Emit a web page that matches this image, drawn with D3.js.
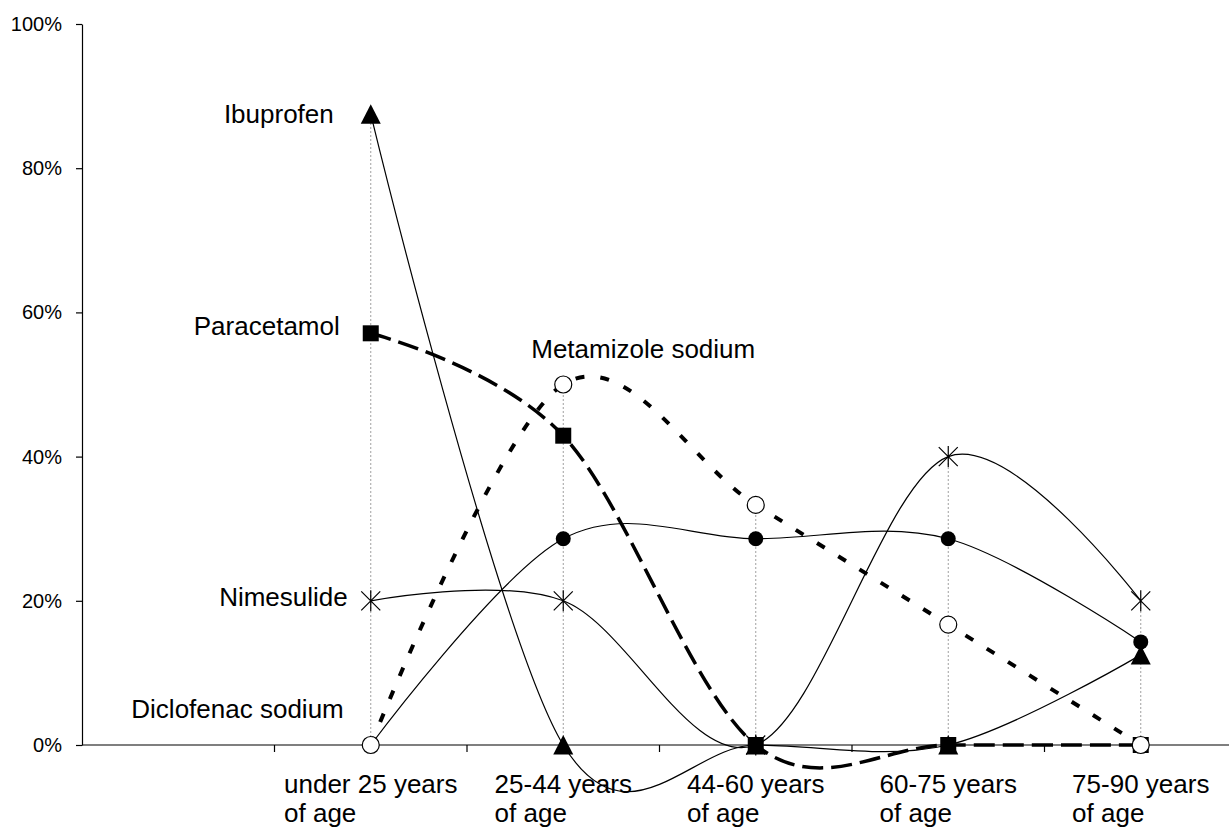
<!DOCTYPE html>
<html>
<head>
<meta charset="utf-8">
<script src="https://cdn.jsdelivr.net/npm/d3@7"></script>
<style>
  html, body { margin: 0; padding: 0; background: #fff; }
  svg { display: block; font-family: "Liberation Sans", Arial, sans-serif; }
</style>
</head>
<body>
<svg id="chart" width="1229" height="827"></svg>
<script>
// ---- data ----
const categories = ["", "under 25 years of age", "25-44 years of age", "44-60 years of age", "60-75 years of age", "75-90 years of age"];
const categoryLines = [[], ["under 25 years", "of age"], ["25-44 years", "of age"], ["44-60 years", "of age"], ["60-75 years", "of age"], ["75-90 years", "of age"]];
const seriesNames = ["Ibuprofen", "Nimesulide", "Diclofenac sodium", "Paracetamol", "Metamizole sodium"];
const ibuprofen = [0.875, 0, 0, 0, 0.125];
const nimesulide = [0.20, 0.20, 0, 0.40, 0.20];
const diclofenac = [0, 0.286, 0.286, 0.286, 0.143];
const paracetamol = [0.571, 0.429, 0, 0, 0];
const metamizole = [0, 0.50, 0.333, 0.167, 0];
const yTicks = [0, 0.2, 0.4, 0.6, 0.8, 1.0];

const seriesValues = [ibuprofen, nimesulide, diclofenac, paracetamol, metamizole];
const dataCats = categories.slice(1);

// ---- styles ----
const styles = [
  { marker: "triangle", width: 1.2, dash: null },
  { marker: "asterisk", width: 1.2, dash: null },
  { marker: "dot", width: 1.2, dash: null },
  { marker: "square", width: 3.5, dash: "21,8" },
  { marker: "circle", width: 4, dash: "9,16" }
];

const svg = d3.select("#chart");
const x = d3.scaleBand().domain(categories).range([82, 82 + 192.5 * 6]).paddingInner(0).paddingOuter(0);
const cx = c => x(c) + x.bandwidth() / 2;
const y = d3.scaleLinear().domain([0, 1]).range([745, 24]);

// drop lines
const g = svg.append("g");
dataCats.forEach((c, i) => {
  const mx = d3.max(seriesValues, s => s[i]);
  g.append("line")
    .attr("x1", cx(c)).attr("x2", cx(c))
    .attr("y1", y(0)).attr("y2", y(mx))
    .attr("stroke", "#a0a0a0").attr("stroke-width", 1)
    .attr("stroke-dasharray", "2,2");
});

// y axis
const yAxis = d3.axisLeft(y).tickValues(yTicks).tickFormat(d3.format(".0%"))
  .tickSize(6).tickSizeOuter(0).tickPadding(14);
const yg = svg.append("g").attr("transform", "translate(82,0)").call(yAxis);
yg.selectAll("text").attr("font-size", "20px").attr("fill", "#000").attr("font-family", "Liberation Sans, Arial, sans-serif");
yg.selectAll("line,path").attr("stroke", "#000").attr("stroke-width", 1.2);

// x axis line + boundary ticks
svg.append("line").attr("x1", 82).attr("x2", 1229).attr("y1", y(0)).attr("y2", y(0))
  .attr("stroke", "#000").attr("stroke-width", 1.2);
categories.forEach((c, i) => {
  if (i === 0) return;
  svg.append("line").attr("x1", x(c)).attr("x2", x(c)).attr("y1", y(0)).attr("y2", y(0) + 7)
    .attr("stroke", "#000").attr("stroke-width", 1.2);
});

// category labels
categories.forEach((c, i) => {
  const lines = categoryLines[i];
  if (!lines.length) return;
  const t1 = svg.append("text").attr("x", cx(c)).attr("y", y(0) + 48)
    .attr("text-anchor", "middle").attr("font-size", "26px").attr("fill", "#000").text(lines[0]);
  const w = t1.node().getComputedTextLength();
  svg.append("text").attr("x", cx(c) - w / 2).attr("y", y(0) + 77)
    .attr("text-anchor", "start").attr("font-size", "26px").attr("fill", "#000").text(lines[1]);
});

// lines
const line = d3.line().x((d, i) => cx(dataCats[i])).y(d => y(d)).curve(d3.curveCardinal.tension(0));
seriesValues.forEach((vals, si) => {
  const st = styles[si];
  svg.append("path").attr("d", line(vals)).attr("fill", "none")
    .attr("stroke", "#000").attr("stroke-width", st.width)
    .attr("stroke-dasharray", st.dash);
});

// markers
function drawMarker(type, px, py) {
  const mg = svg.append("g").attr("transform", `translate(${px},${py})`);
  if (type === "triangle") {
    mg.append("path").attr("d", "M0,-10L10,9.5L-10,9.5Z").attr("fill", "#000");
  } else if (type === "square") {
    mg.append("rect").attr("x", -8).attr("y", -8).attr("width", 16).attr("height", 16).attr("fill", "#000");
  } else if (type === "circle") {
    mg.append("circle").attr("r", 8.5).attr("fill", "#fff").attr("stroke", "#000").attr("stroke-width", 1.2);
  } else if (type === "dot") {
    mg.append("circle").attr("r", 7.5).attr("fill", "#000");
  } else if (type === "asterisk") {
    mg.append("path").attr("d", "M-9.5,-9.5L9.5,9.5M-9.5,9.5L9.5,-9.5M0,-10.5L0,10.5")
      .attr("stroke", "#000").attr("stroke-width", 1.2).attr("fill", "none");
  }
}
seriesValues.forEach((vals, si) => {
  vals.forEach((v, i) => drawMarker(styles[si].marker, cx(dataCats[i]), y(v)));
});

// series labels (placed next to data points)
const labelPlacement = [
  { s: 0, i: 0, dx: -37, dy: 9, anchor: "end" },
  { s: 1, i: 0, dx: -23, dy: 5, anchor: "end" },
  { s: 2, i: 0, dx: -27, dy: -27, anchor: "end" },
  { s: 3, i: 0, dx: -31, dy: 2, anchor: "end" },
  { s: 4, i: 1, dx: -32, dy: -27, anchor: "start" }
];
labelPlacement.forEach(p => {
  svg.append("text")
    .attr("x", cx(dataCats[p.i]) + p.dx)
    .attr("y", y(seriesValues[p.s][p.i]) + p.dy)
    .attr("text-anchor", p.anchor).attr("font-size", "26px").attr("fill", "#000")
    .text(seriesNames[p.s]);
});
</script>
</body>
</html>
